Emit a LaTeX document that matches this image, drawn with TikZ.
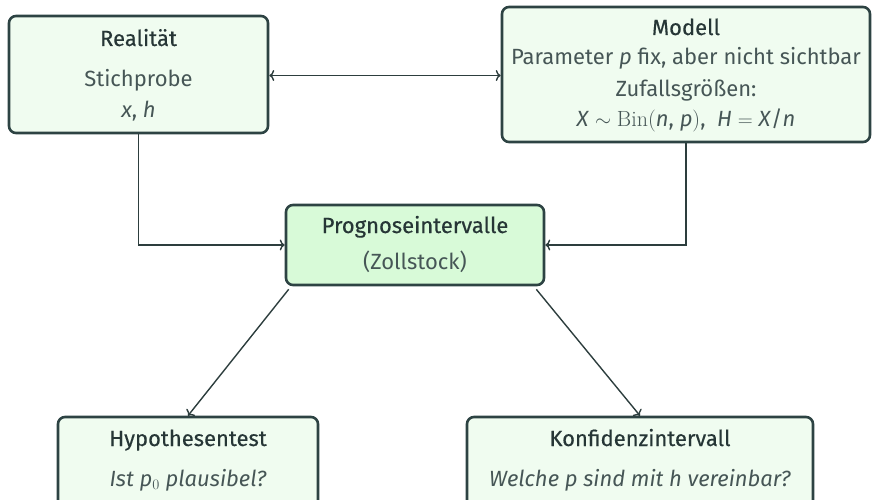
\documentclass[tikz,border=0pt]{standalone}
\usepackage{fontspec}
\setmainfont{Fira Sans}
\newfontfamily\titfont[FakeBold=0.35]{Fira Sans}
\newfontfamily\lmr{Latin Modern Roman}
\usetikzlibrary{arrows.meta}
\definecolor{bordc}{HTML}{2D4343}
\definecolor{titc}{HTML}{263636}
\definecolor{bodc}{HTML}{465656}
\definecolor{linec}{HTML}{2D3E3E}
\definecolor{lightfill}{HTML}{F0FCF0}
\definecolor{strongfill}{HTML}{D8FAD8}
\tikzset{
  box/.style={draw=bordc, line width=2.6pt, rounded corners=7pt, inner sep=0pt},
  ttl/.style={anchor=base, text=titc, font=\titfont\fontsize{22}{26}\selectfont, inner sep=0pt},
  bod/.style={anchor=base, text=bodc, font=\fontsize{22}{26}\selectfont, inner sep=0pt},
  conn/.style={draw=linec, line width=1.4pt, -{To[length=5pt,width=11pt]}},
  dconn/.style={draw=linec, line width=1.4pt, {To[length=5pt,width=11pt]}-{To[length=5pt,width=11pt]}}
}
\begin{document}
\begin{tikzpicture}[x=1pt,y=-1pt]
\useasboundingbox (0,0) rectangle (873,500);
% boxes
\node[box, fill=lightfill, minimum width=259pt, minimum height=117pt] (real) at (138.5,74.5) {};
\node[box, fill=lightfill, minimum width=368pt, minimum height=135pt] (modell) at (686,74.5) {};
\node[box, fill=strongfill, minimum width=258pt, minimum height=80pt] (prog) at (415,245) {};
\node[box, fill=lightfill, minimum width=260pt, minimum height=100pt] (hyp) at (188,467) {};
\node[box, fill=lightfill, minimum width=346pt, minimum height=100pt] (konf) at (640,467) {};
% texts
\node[ttl] (realT) at (138.5,46) {Realität};
\node[bod] (realA) at (138.5,87) {Stichprobe};
\node[bod] (realB) at (138.5,118) {\textit{x}, \textit{h}};
\node[ttl] (modT) at (686,35) {Modell};
\node[bod] (modA) at (686,65) {Parameter \textit{p} fix, aber nicht sichtbar};
\node[bod] (modB) at (686,97) {Zufallsgrößen:};
\node[bod] (modC) at (686,127) {\textit{X} $\sim$ {\lmr Bin(}\textit{n}, \textit{p}{\lmr )}, \ \textit{H} $=$ \textit{X}/\textit{n}};
\node[ttl] (progT) at (415,233) {Prognoseintervalle};
\node[bod] (progA) at (415,269) {(Zollstock)};
\node[ttl] (hypT) at (188,446) {Hypothesentest};
\node[bod] (hypA) at (188,486) {\textit{Ist p}$_0$ \textit{plausibel?}};
\node[ttl] (konfT) at (640,446) {Konfidenzintervall};
\node[bod] (konfA) at (640,486) {\textit{Welche p sind mit h vereinbar?}};
% connectors
\draw[dconn] ([yshift=-1pt]real.east) -- ([yshift=-1pt]modell.west);
\draw[conn] (real.south) |- (prog.west);
\draw[conn] (modell.south) |- (prog.east);
\draw[conn] ([shift={(4pt,-3pt)}]prog.south west) -- (hyp.north);
\draw[conn] ([shift={(-9pt,-3pt)}]prog.south east) -- (konf.north);
\end{tikzpicture}
\end{document}
